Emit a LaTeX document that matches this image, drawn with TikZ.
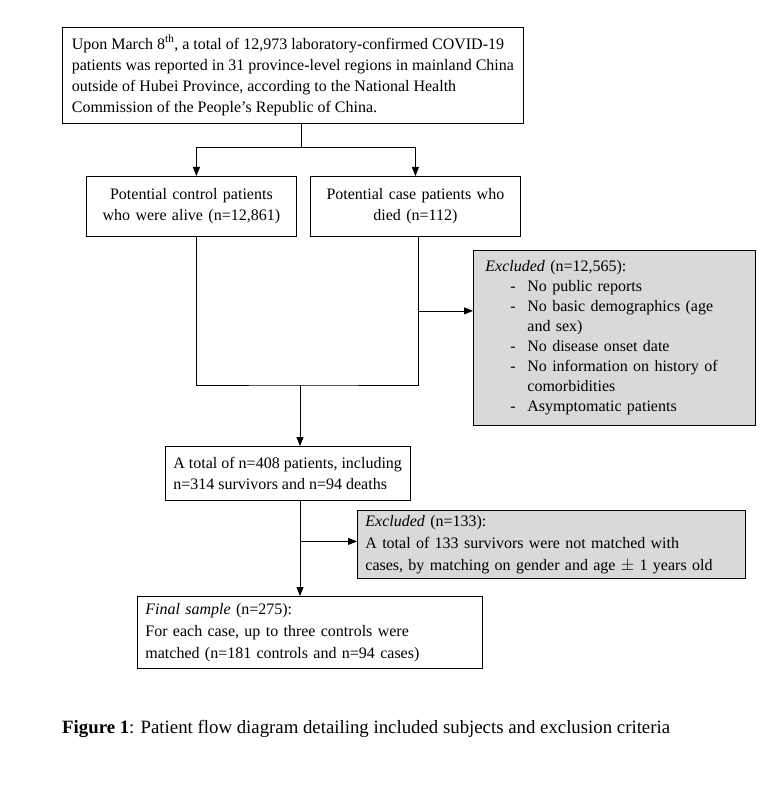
\documentclass[tikz,border=0pt]{standalone}
\usepackage{fontspec}
\setmainfont{Liberation Serif}
\usetikzlibrary{arrows.meta}
\usetikzlibrary{calc}
\definecolor{excgray}{RGB}{217,217,217}

\begin{document}
\begin{tikzpicture}[x=1pt, y=-1pt,
    box/.style={rectangle, draw, line width=0.8pt, anchor=north west, inner xsep=8pt, inner ysep=0pt, align=left, font=\fontsize{16}{21}\selectfont},
    shaded/.style={box, fill=excgray},
    flow/.style={line width=0.8pt, -{Triangle[length=9pt, width=7pt]}},
    link/.style={line width=0.8pt}]
      \useasboundingbox (0,0) rectangle (778,802);

      % boxes
      \node[box, minimum width=461pt, minimum height=96pt] (top) at (62,27) {Upon March 8\textsuperscript{th}, a total of 12,973 laboratory-confirmed COVID-19\\ patients was reported in 31 province-level regions in mainland China\\ outside of Hubei Province, according to the National Health\\ Commission of the People’s Republic of China.};
      \node[box, align=center, text width=194pt, minimum height=60pt] (ctrl) at (86,176) {Potential control patients\\ who were alive (n=12,861)};
      \node[box, align=center, text width=194pt, minimum height=60pt] (case) at (310,176) {Potential case patients who\\ died (n=112)};
      \node[shaded, inner xsep=12pt, text width=258pt, minimum height=175pt, font=\fontsize{16}{20}\selectfont] (excl1) at (473,250) {\textit{Excluded} (n=12,565):\\
        \hspace*{25pt}\makebox[17pt][l]{-}No public reports\\
        \hspace*{25pt}\makebox[17pt][l]{-}No basic demographics (age\\
        \hspace*{42pt}and sex)\\
        \hspace*{25pt}\makebox[17pt][l]{-}No disease onset date\\
        \hspace*{25pt}\makebox[17pt][l]{-}No information on history of\\
        \hspace*{42pt}comorbidities\\
        \hspace*{25pt}\makebox[17pt][l]{-}Asymptomatic patients};
      \node[box, minimum width=240pt, minimum height=54pt] (total) at (165,446) {A total of n=408 patients, including\\ n=314 survivors and n=94 deaths};
      \node[shaded, text width=372pt, minimum height=68pt, font=\fontsize{16}{22}\selectfont] (excl2) at (357,510) {\textit{Excluded} (n=133):\\ A total of 133 survivors were not matched with\\ cases, by matching on gender and age $\pm$ 1 years old};
      \node[box, text width=329pt, minimum height=72pt, font=\fontsize{16}{22}\selectfont] (final) at (137,596) {\textit{Final sample} (n=275):\\ For each case, up to three controls were\\ matched (n=181 controls and n=94 cases)};

      \node[anchor=base west, inner sep=0pt, font=\fontsize{18.8}{22}\selectfont] (cap) at (62,733) {\textbf{Figure 1}: Patient flow diagram detailing included subjects and exclusion criteria};

      % connectors
      \coordinate (split) at ($([xshift=8pt]top.south)+(0,24)$);
      \coordinate (merge) at (300,385);
      \draw[link] ([xshift=8pt]top.south) -- (split);
      \draw[flow] (split) -| ([xshift=5pt]ctrl.north);
      \draw[flow] (split) -| (case.north);
      \draw[link] ([xshift=5pt]ctrl.south) |- (merge) -| ([xshift=3pt]case.south);
      \draw[flow] (merge) -- (merge |- total.north);
      \draw[link] ([xshift=3pt]case.south |- excl1.west) ++(0,-27) coordinate (out1);
      \draw[flow] (out1) -- ([yshift=27pt]excl1.west);
      \draw[flow] (total.south -| merge) -- (final.north -| merge);
      \draw[flow] ([yshift=3pt]excl2.west -| merge) -- ([yshift=3pt]excl2.west);
    \end{tikzpicture}
\end{document}
